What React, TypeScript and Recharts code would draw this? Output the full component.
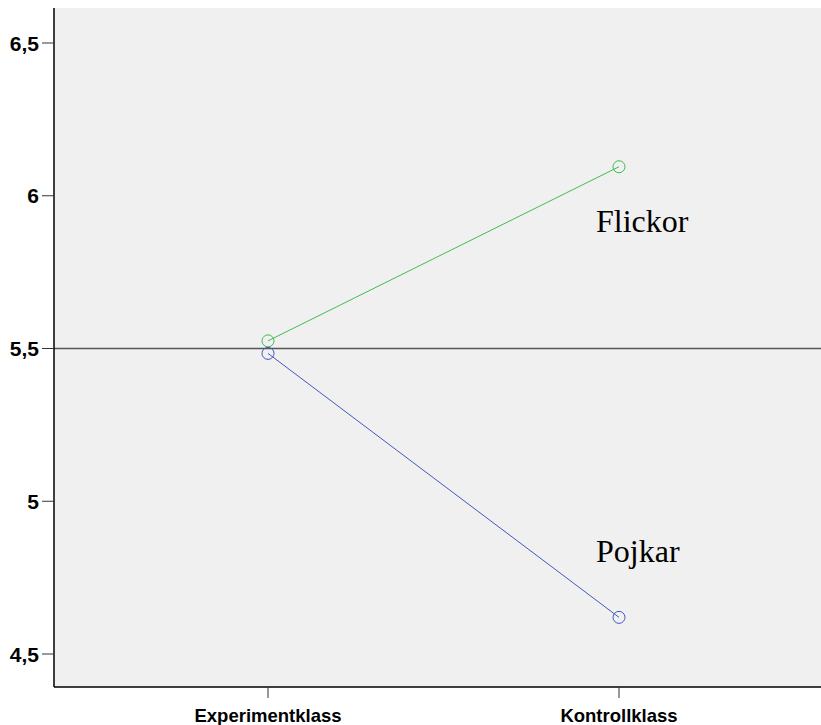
import React from 'react';
import {
  LineChart, Line, XAxis, YAxis, CartesianGrid, ReferenceLine,
} from 'recharts';

const categories = ['Experimentklass', 'Kontrollklass'];
const flickor = [5.525, 6.095];
const pojkar = [5.484, 4.62];
const yTicks = [4.5, 5, 5.5, 6, 6.5];

const GREEN = '#3fbe4f';
const BLUE = '#4358c0';

const data = categories.map((name, i) => ({
  x: i,
  name,
  flickor: flickor[i],
  pojkar: pojkar[i],
}));

const fmt = (v: number) => String(v).replace('.', ',');

const XTick = ({ x, y, payload }: any) => (
  <text
    x={x}
    y={y + 22}
    textAnchor="middle"
    fontFamily="Liberation Sans, Arial, sans-serif"
    fontWeight="bold"
    fontSize={18.5}
    fill="#000"
  >
    {categories[payload.value]}
  </text>
);

const YTick = ({ x, y, payload }: any) => (
  <text
    x={x - 1}
    y={y + 7.5}
    textAnchor="end"
    fontFamily="Liberation Sans, Arial, sans-serif"
    fontWeight="bold"
    fontSize={21}
    fill="#000"
  >
    {fmt(payload.value)}
  </text>
);

// series name written next to the last point
const seriesLabel = (text: string, dy: number) => (props: any) => {
  if (props.index !== categories.length - 1) return null;
  return (
    <text
      key={text}
      x={props.x - 23}
      y={props.y + dy}
      fontFamily="Liberation Serif, 'Times New Roman', serif"
      fontSize={32}
      fill="#000"
    >
      {text}
    </text>
  );
};

export default function App() {
  return (
    <div style={{ position: 'absolute', left: 0, top: 0, background: '#fff' }}>
      <LineChart
        width={821}
        height={725}
        data={data}
        margin={{ top: 8, right: 0, bottom: 0, left: 0 }}
      >
        <CartesianGrid fill="#f0f0f0" horizontal={false} vertical={false} />
        <XAxis
          dataKey="x"
          type="number"
          domain={[-0.6097, 1.5755]}
          ticks={[0, 1]}
          allowDataOverflow
          height={38}
          tick={<XTick />}
          tickLine={{ stroke: '#333', strokeWidth: 1 }}
          tickSize={11}
          axisLine={{ stroke: '#000', strokeWidth: 1.5 }}
        />
        <XAxis
          xAxisId="top"
          orientation="top"
          dataKey="x"
          type="number"
          domain={[-0.6097, 1.5755]}
          tick={false}
          tickLine={false}
          height={0}
          axisLine={{ stroke: '#222', strokeWidth: 1 }}
        />
        <YAxis
          type="number"
          domain={[4.392, 6.6146]}
          ticks={yTicks}
          allowDataOverflow
          width={54}
          tick={<YTick />}
          tickLine={{ stroke: '#333', strokeWidth: 1 }}
          tickSize={12}
          axisLine={{ stroke: '#000', strokeWidth: 1.5 }}
        />
        <ReferenceLine y={5.5} stroke="#555" strokeWidth={1.5} />
        <Line
          dataKey="flickor"
          stroke={GREEN}
          strokeWidth={1}
          dot={{ r: 6, stroke: GREEN, strokeWidth: 1, fill: 'none' }}
          isAnimationActive={false}
          label={seriesLabel('Flickor', 65)}
        />
        <Line
          dataKey="pojkar"
          stroke={BLUE}
          strokeWidth={1}
          dot={{ r: 6, stroke: BLUE, strokeWidth: 1, fill: 'none' }}
          isAnimationActive={false}
          label={seriesLabel('Pojkar', -55)}
        />
      </LineChart>
    </div>
  );
}
